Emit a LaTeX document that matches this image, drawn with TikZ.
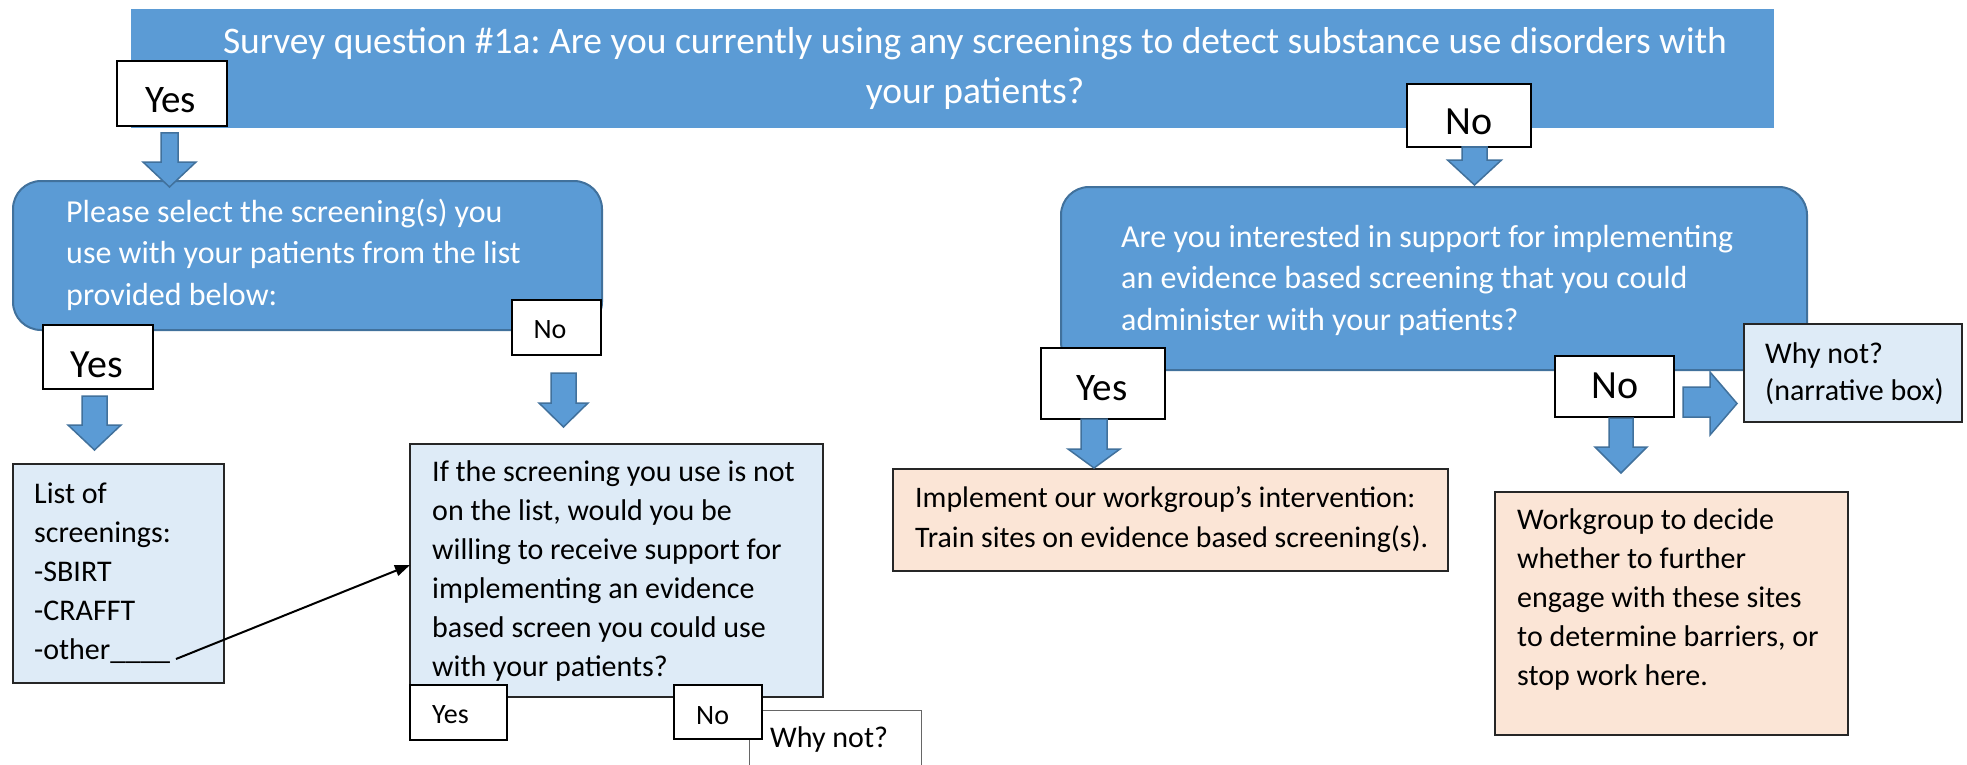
\documentclass[tikz,border=0pt]{standalone}
\usepackage{fontspec}
\setmainfont{Carlito}
\usetikzlibrary{arrows.meta}
\definecolor{blu}{HTML}{5B9BD5}
\definecolor{bluedge}{HTML}{41719C}
\definecolor{lblu}{HTML}{DEEBF7}
\definecolor{peach}{HTML}{FBE5D6}
\frenchspacing
\tikzset{
  boxbase/.style={anchor=north west, inner sep=0pt, outer sep=0pt},
  banner/.style={boxbase, fill=blu},
  qbox/.style={boxbase, fill=blu, draw=bluedge, line width=2pt, rounded corners=28pt},
  answer/.style={boxbase, fill=white, draw=black, line width=2.5pt},
  infobox/.style={boxbase, fill=lblu, draw=black!85, line width=2.2pt},
  actbox/.style={boxbase, fill=peach, draw=black!85, line width=2.2pt},
  thinbox/.style={boxbase, fill=white, draw=black!60, line width=1pt},
  arrowshape/.style={fill=blu, draw=bluedge, line width=1.5pt, line join=miter},
  txt/.style={anchor=base west, inner sep=0pt, align=left},
  ctxt/.style={anchor=base, inner sep=0pt, align=center},
}
\newcommand{\blockdown}[6]{%
  \filldraw[arrowshape] ({#1-#5},#2) -- ({#1+#5},#2) -- ({#1+#5},#3) -- ({#1+#6},#3) -- (#1,#4) -- ({#1-#6},#3) -- ({#1-#5},#3) -- cycle;}
\begin{document}
\begin{tikzpicture}[x=1pt,y=-1pt]
\useasboundingbox[fill=white] (0,0) rectangle (1967,765);

% banner (multi-line texts are placed by the baseline of their last line)
\node[banner, minimum width=1643pt, minimum height=119pt] (ban) at (131,9) {};
\node[ctxt, text=white, font=\fontsize{37.5}{50}\selectfont] (bant) at (975,104)
  {Survey question \#1a: Are you currently using any screenings to detect substance use disorders with\\your patients?};
\node[answer, minimum width=110pt, minimum height=65pt] (yesA) at (117,61) {};
\node[ctxt, font=\fontsize{39}{39}\selectfont] (yesAt) at (170.5,113) {Yes};
\node[answer, minimum width=124pt, minimum height=63pt] (noA) at (1407,84) {};
\node[ctxt, font=\fontsize{40}{40}\selectfont] (noAt) at (1469,135) {No};

% left question
\node[qbox, minimum width=589pt, minimum height=149pt] (leftQ) at (13,181) {};
\node[txt, text=white, font=\fontsize{32}{41.5}\selectfont] (leftQt) at (66,305)
  {Please select the screening(s) you\\use with your patients from the list\\provided below:};
\node[answer, minimum width=110pt, minimum height=64pt] (yesB) at (43,325) {};
\node[ctxt, font=\fontsize{40}{40}\selectfont] (yesBt) at (97,377) {Yes};
\node[answer, minimum width=89pt, minimum height=55pt, line width=2pt] (noB) at (512,300) {};
\node[ctxt, font=\fontsize{28}{28}\selectfont] (noBt) at (550,338) {No};

% list box
\node[infobox, minimum width=211pt, minimum height=219pt] (list) at (13,464) {};
\node[txt, font=\fontsize{30}{39}\selectfont] (listt) at (34,659)
  {List of\\screenings:\\-SBIRT\\-CRAFFT\\-other\_\_\_\_};

% middle box
\node[infobox, minimum width=413pt, minimum height=253pt] (mid) at (410,444) {};
\node[txt, font=\fontsize{30}{39}\selectfont] (midt) at (432,676)
  {If the screening you use is not\\on the list, would you be\\willing to receive support for\\implementing an evidence\\based screen you could use\\with your patients?};
\node[answer, minimum width=97pt, minimum height=55pt, line width=2pt] (yesD) at (410,685) {};
\node[txt, font=\fontsize{28}{28}\selectfont] (yesDt) at (432,723) {Yes};
\node[thinbox, minimum width=172pt, minimum height=80pt] (whyB) at (749,710) {};
\node[txt, font=\fontsize{30}{30}\selectfont] (whyBt) at (770,747) {Why not?};
\node[answer, minimum width=88pt, minimum height=54pt, line width=2pt] (noD) at (674,685) {};
\node[txt, font=\fontsize{28}{28}\selectfont] (noDt) at (696,724) {No};

% right question
\node[qbox, minimum width=746pt, minimum height=183pt] (rightQ) at (1061,187) {};
\node[txt, text=white, font=\fontsize{32}{41.5}\selectfont] (rightQt) at (1121,330)
  {Are you interested in support for implementing\\an evidence based screening that you could\\administer with your patients?};
\node[answer, minimum width=124pt, minimum height=71pt] (yesC) at (1041,348) {};
\node[ctxt, font=\fontsize{39}{39}\selectfont] (yesCt) at (1102,400) {Yes};
\node[answer, minimum width=119pt, minimum height=61pt] (noC) at (1555,356) {};
\node[ctxt, font=\fontsize{40}{40}\selectfont] (noCt) at (1615,398) {No};
\node[infobox, minimum width=218pt, minimum height=98pt] (whyR) at (1744,324) {};
\node[txt, font=\fontsize{30}{37}\selectfont] (whyRt) at (1765,400) {Why not?\\(narrative box)};

% action boxes
\node[actbox, minimum width=555pt, minimum height=102pt] (act1) at (893,469) {};
\node[txt, font=\fontsize{29.8}{40}\selectfont] (act1t) at (915,547)
  {Implement our workgroup’s intervention:\\Train sites on evidence based screening(s).};
\node[actbox, minimum width=353pt, minimum height=243pt] (act2) at (1495,492) {};
\node[txt, font=\fontsize{30}{39}\selectfont] (act2t) at (1517,685)
  {Workgroup to decide\\whether to further\\engage with these sites\\to determine barriers, or\\stop work here.};

% block arrows
\blockdown{169.5}{133}{162}{187}{8.5}{26.5}
\blockdown{1474.5}{147}{160}{185}{12.5}{27}
\blockdown{94.5}{396}{425}{450}{12.5}{26.5}
\blockdown{563.5}{373}{403}{427}{12.5}{24.5}
\blockdown{1094}{419}{449}{468}{13}{26}
\blockdown{1621}{418}{447}{473}{12}{26}
\filldraw[arrowshape] (1683,387) -- (1710,387) -- (1710,372) -- (1737,403.5) -- (1710,435) -- (1710,417) -- (1683,417) -- cycle;

% thin arrow
\coordinate (othend) at (176,659);
\draw[line width=2pt, -{Triangle[length=15pt,width=11pt]}] (othend) -- (mid.west |- 0,565);
\end{tikzpicture}
\end{document}
